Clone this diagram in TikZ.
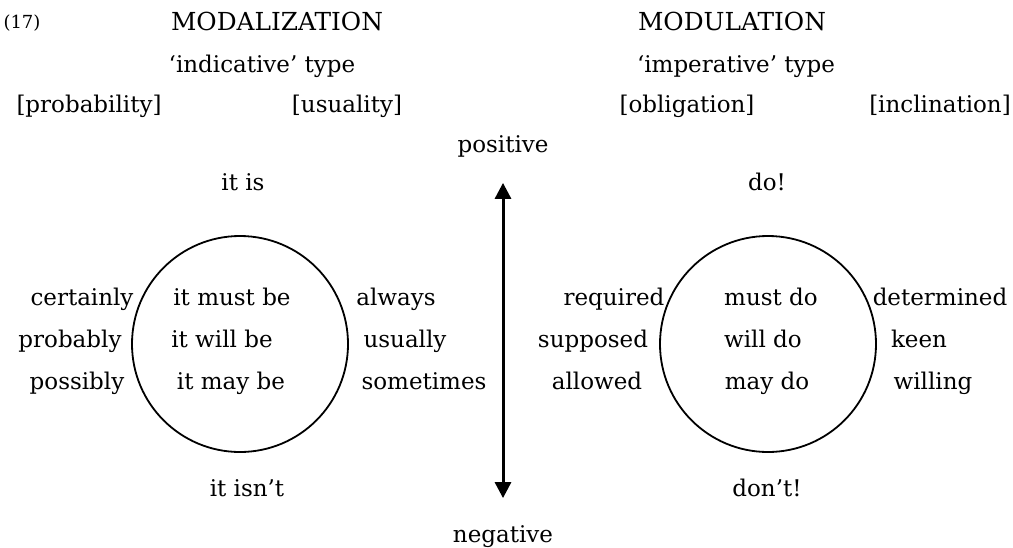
\documentclass[tikz,border=0pt]{standalone}
\usepackage{fontspec}
\setmainfont{DejaVu Serif}
\usetikzlibrary{arrows.meta,positioning}

\begin{document}
\begin{tikzpicture}[x=0.5pt,y=-0.5pt,
    lab/.style={inner sep=0pt,text height=8pt,text depth=2.5pt,font=\fontsize{11.5}{13}\selectfont},
    head/.style={lab,font=\fontsize{12.4}{14}\selectfont},
    wheel/.style={circle,draw,line width=0.9pt,minimum size=108pt,inner sep=0pt},
    polarity/.style={line width=1.5pt,{Triangle[length=8pt,width=8pt]}-{Triangle[length=8pt,width=8pt]}}]
    \useasboundingbox (0,0) rectangle (1013,547);

    % headings
    \node[lab,font=\fontsize{9}{10}\selectfont] (ex) at (22,23) {(17)};
    \node[head] (modal) at (277,25) {MODALIZATION};
    \node[head] (modul) at (732,25) {MODULATION};
    \node[lab] (indic) at (262,67) {`indicative' type};
    \node[lab] (imper) at (736,67) {`imperative' type};
    \node[lab] (prob) at (89,107) {[probability]};
    \node[lab] (usual) at (347,107) {[usuality]};
    \node[lab] (oblig) at (687,107) {[obligation]};
    \node[lab] (incl) at (940,107) {[inclination]};

    % polarity axis
    \node[lab] (pos) at (503,147) {positive};
    \node[lab] (neg) at (503,537) {negative};
    \draw[polarity,shorten <=12.5pt,shorten >=14pt] (pos) -- (neg);

    % modalization
    \node[wheel] (mzn) at (240,344) {};
    \node[lab] (itis) at (243,185) {it is};
    \node[lab] (itisnt) at (247,491) {it isn't};
    \node[lab] (must) at (232,300) {it must be};
    \node[lab] (will) at (222,342) {it will be};
    \node[lab] (may) at (231,384) {it may be};
    \node[lab] (cert) at (82,300) {certainly};
    \node[lab] (prbl) at (70,342) {probably};
    \node[lab] (poss) at (77,384) {possibly};
    \node[lab] (alw) at (396,300) {always};
    \node[lab] (usu) at (405,342) {usually};
    \node[lab] (some) at (424,384) {sometimes};

    % modulation
    \node[wheel] (mdn) at (768,344) {};
    \node[lab] (do) at (767,185) {do!};
    \node[lab] (dont) at (767,491) {don't!};
    \node[lab] (mustdo) at (771,300) {must do};
    \node[lab] (willdo) at (763,342) {will do};
    \node[lab] (maydo) at (767,384) {may do};
    \node[lab] (req) at (614,300) {required};
    \node[lab] (supp) at (593,342) {supposed};
    \node[lab] (allw) at (597,384) {allowed};
    \node[lab] (det) at (940,300) {determined};
    \node[lab] (keen) at (919,342) {keen};
    \node[lab] (will2) at (933,384) {willing};
\end{tikzpicture}
\end{document}
